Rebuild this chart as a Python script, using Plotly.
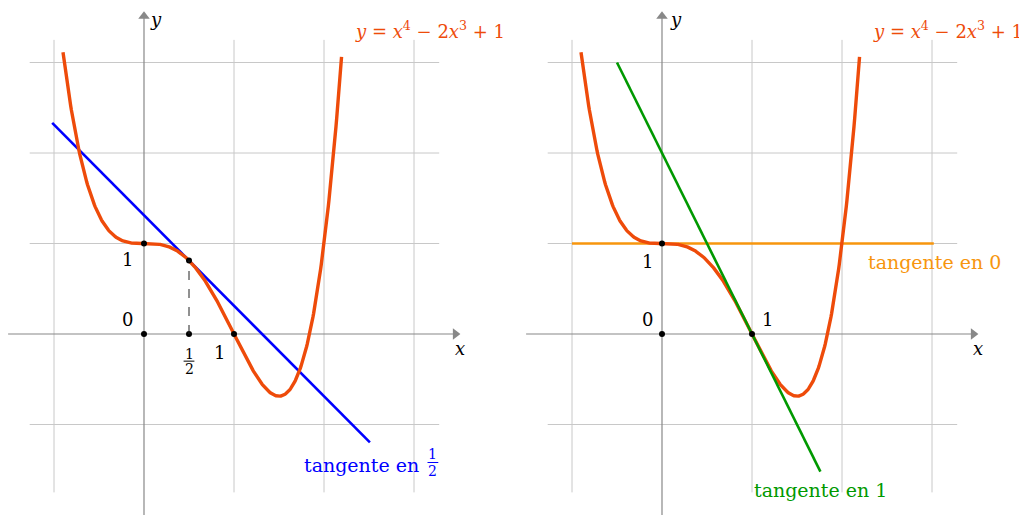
import numpy as np
import plotly.graph_objects as go

# ---- data ----
poly_coeffs = [1, -2, 0, 0, 1]          # y = x^4 - 2x^3 + 1
curve_domain = [-0.9, 2.195]
grid_vals = [-1, 1, 2, 3]
grid_x_extent = [-1.27, 3.28]
grid_y_extent = [-1.75, 3.25]
axis_x_extent = [-1.51, 3.52]
axis_y_extent = [-2.1, 3.57]

# tangent lines: (point a, x extent)
tangent_left = dict(a=0.5, x=[-1.02, 2.51])
tangent_right0 = dict(a=0.0, x=[-1.0, 3.02])
tangent_right1 = dict(a=1.0, x=[-0.5, 1.76])

left_points_x = [0, 0.5, 0, 0.5, 1]
right_points_x = [0, 0, 1]

CURVE = "#EE4B0A"
BLUE = "#0000FF"
GREEN = "#009900"
ORANGE = "#F7960E"
GRID = "#C8C8C8"
AXIS = "#888888"
FONT = "DejaVu Serif"


def f(x):
    return np.polyval(poly_coeffs, x)


def fp(x):
    return np.polyval(np.polyder(poly_coeffs), x)


def tangent(t):
    a = t["a"]
    xs = np.array(t["x"])
    return xs, f(a) + fp(a) * (xs - a)


fig = go.Figure()
W, H = 1027, 515
PX = 90.0
PY = 90.5
xr = [-1.51, 3.6]
left_start = 136 - (0 - xr[0]) * PX
right_start = 654 - (0 - xr[0]) * PX
span = (xr[1] - xr[0]) * PX
left_dom = [max(left_start, 0) / W, (left_start + span) / W]
right_dom = [right_start / W, (right_start + span) / W]
yr = [-(H - 326) / PY, 326 / PY]

for ax in ["", "2"]:
    fig.update_layout(**{
        "xaxis" + ax: dict(range=xr, domain=left_dom if ax == "" else right_dom,
                           visible=False, anchor="y" + ax),
        "yaxis" + ax: dict(range=yr, domain=[0, 1], visible=False, anchor="x" + ax),
    })

shapes = []
annotations = []


def add_panel(xref, yref):
    for g in grid_vals:
        shapes.append(dict(type="line", xref=xref, yref=yref, x0=g, x1=g,
                           y0=grid_y_extent[0], y1=grid_y_extent[1],
                           line=dict(color=GRID, width=1), layer="below"))
        shapes.append(dict(type="line", xref=xref, yref=yref, y0=g, y1=g,
                           x0=grid_x_extent[0], x1=grid_x_extent[1],
                           line=dict(color=GRID, width=1), layer="below"))
    shapes.append(dict(type="line", xref=xref, yref=yref, x0=axis_x_extent[0],
                       x1=axis_x_extent[1] - 0.05, y0=0, y1=0,
                       line=dict(color=AXIS, width=1.2), layer="below"))
    shapes.append(dict(type="line", xref=xref, yref=yref, x0=0, x1=0,
                       y0=axis_y_extent[0], y1=axis_y_extent[1] - 0.05,
                       line=dict(color=AXIS, width=1.2), layer="below"))
    ya = "y" if yref == "y" else "y2"
    fig.add_trace(go.Scatter(x=[axis_x_extent[1] - 0.06], y=[0], mode="markers",
                             marker=dict(symbol="triangle-right", size=10, color=AXIS),
                             xaxis=xref, yaxis=ya, showlegend=False, hoverinfo="skip"))
    fig.add_trace(go.Scatter(x=[0], y=[axis_y_extent[1] - 0.06], mode="markers",
                             marker=dict(symbol="triangle-up", size=10, color=AXIS),
                             xaxis=xref, yaxis=ya, showlegend=False, hoverinfo="skip"))


add_panel("x", "y")
add_panel("x2", "y2")

shapes.append(dict(type="line", xref="x", yref="y", x0=0.5, x1=0.5, y0=0,
                   y1=float(f(0.5)), line=dict(color="#222222", width=1, dash="dash")))

xs = np.linspace(curve_domain[0], curve_domain[1], 400)

# left panel
tx, ty = tangent(tangent_left)
fig.add_trace(go.Scatter(x=tx, y=ty, mode="lines", line=dict(color=BLUE, width=2.6),
                         xaxis="x", yaxis="y", showlegend=False, hoverinfo="skip"))
fig.add_trace(go.Scatter(x=xs, y=f(xs), mode="lines", line=dict(color=CURVE, width=3.4),
                         xaxis="x", yaxis="y", showlegend=False, hoverinfo="skip"))
lpx = np.array(left_points_x, dtype=float)
lpy = np.array([1, f(0.5), 0, 0, 0])
fig.add_trace(go.Scatter(x=lpx, y=lpy, mode="markers", marker=dict(color="black", size=6),
                         xaxis="x", yaxis="y", showlegend=False, hoverinfo="skip"))

# right panel
tx, ty = tangent(tangent_right0)
fig.add_trace(go.Scatter(x=tx, y=ty, mode="lines", line=dict(color=ORANGE, width=2.6),
                         xaxis="x2", yaxis="y2", showlegend=False, hoverinfo="skip"))
fig.add_trace(go.Scatter(x=xs, y=f(xs), mode="lines", line=dict(color=CURVE, width=3.4),
                         xaxis="x2", yaxis="y2", showlegend=False, hoverinfo="skip"))
tx, ty = tangent(tangent_right1)
fig.add_trace(go.Scatter(x=tx, y=ty, mode="lines", line=dict(color=GREEN, width=2.6),
                         xaxis="x2", yaxis="y2", showlegend=False, hoverinfo="skip"))
rpx = np.array(right_points_x, dtype=float)
rpy = np.array([1, 0, 0])
fig.add_trace(go.Scatter(x=rpx, y=rpy, mode="markers", marker=dict(color="black", size=6),
                         xaxis="x2", yaxis="y2", showlegend=False, hoverinfo="skip"))


def label(xref, yref, x, y, text, color="black", size=18, xanchor="center"):
    annotations.append(dict(xref=xref, yref=yref, x=x, y=y, text=text, showarrow=False,
                            xanchor=xanchor, yanchor="middle",
                            font=dict(family=FONT, size=size, color=color)))


curve_label = "<i>y</i> = <i>x</i><sup>4</sup> − 2<i>x</i><sup>3</sup> + 1"

# left labels
label("x", "y", -0.18, 0.82, "1")
label("x", "y", -0.18, 0.16, "0")
label("x", "y", 0.84, -0.2, "1")
label("x", "y", 0.5, -0.22, "1", size=14)
label("x", "y", 0.5, -0.39, "2", size=14)
shapes.append(dict(type="line", xref="x", yref="y", x0=0.44, x1=0.56, y0=-0.30, y1=-0.30,
                   line=dict(color="black", width=1)))
label("x", "y", 3.51, -0.16, "<i>x</i>")
label("x", "y", 0.13, 3.47, "<i>y</i>")
label("x", "y", 3.18, 3.36, curve_label, color=CURVE, size=18)
label("x", "y", 3.08, -1.45, "tangente en", color=BLUE, size=19, xanchor="right")
label("x", "y", 3.21, -1.33, "1", color=BLUE, size=14)
label("x", "y", 3.21, -1.51, "2", color=BLUE, size=14)
shapes.append(dict(type="line", xref="x", yref="y", x0=3.15, x1=3.27, y0=-1.42, y1=-1.42,
                   line=dict(color=BLUE, width=1)))

# right labels
label("x2", "y2", -0.16, 0.8, "1")
label("x2", "y2", -0.16, 0.16, "0")
label("x2", "y2", 1.17, 0.16, "1")
label("x2", "y2", 3.51, -0.16, "<i>x</i>")
label("x2", "y2", 0.16, 3.47, "<i>y</i>")
label("x2", "y2", 3.18, 3.36, curve_label, color=CURVE, size=18)
label("x2", "y2", 3.03, 0.8, "tangente en 0", color=ORANGE, size=19)
label("x2", "y2", 1.76, -1.72, "tangente en 1", color=GREEN, size=19)

fig.update_layout(width=W, height=H, margin=dict(l=0, r=0, t=0, b=0),
                  paper_bgcolor="white", plot_bgcolor="white",
                  shapes=shapes, annotations=annotations, showlegend=False)

fig.write_html("out.html")
